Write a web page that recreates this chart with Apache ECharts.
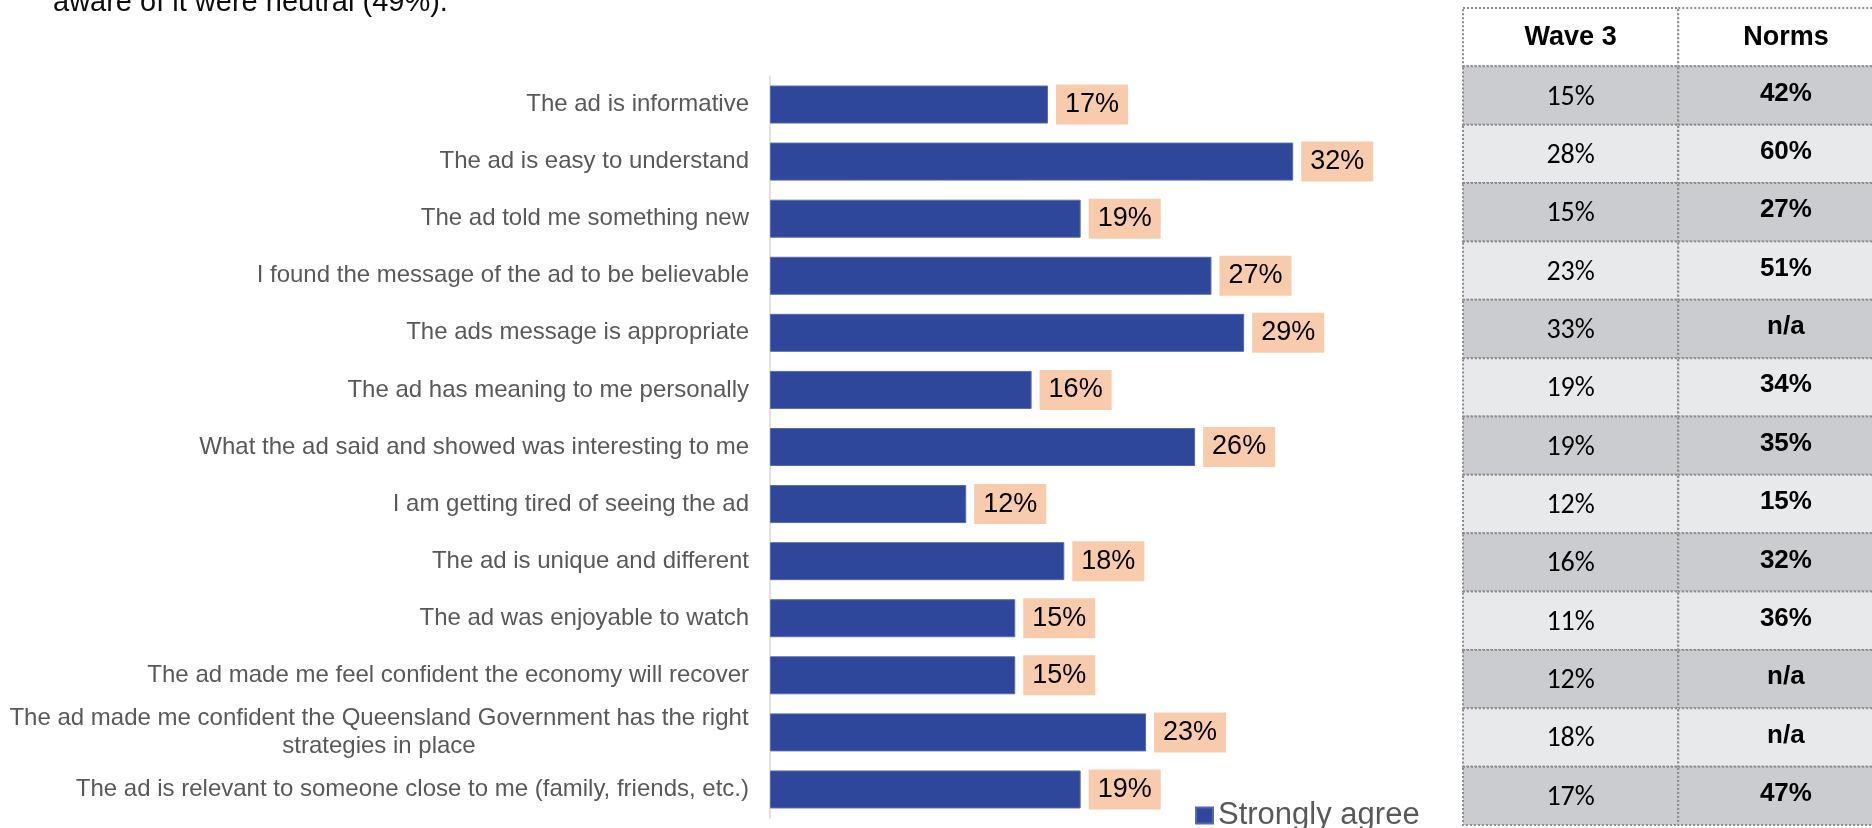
<!DOCTYPE html>
<html>
<head>
<meta charset="utf-8">
<title>Ad diagnostics – Strongly agree</title>
<script src="https://cdn.jsdelivr.net/npm/echarts@6/dist/echarts.min.js"></script>
<style>
  html, body { margin: 0; padding: 0; background: #ffffff; }
  #chart { width: 1872px; height: 828px; }
</style>
</head>
<body>
<div id="chart"></div>
<script>
// Statements rated by respondents (top to bottom)
const categories = [
  'The ad is informative',
  'The ad is easy to understand',
  'The ad told me something new',
  'I found the message of the ad to be believable',
  'The ads message is appropriate',
  'The ad has meaning to me personally',
  'What the ad said and showed was interesting to me',
  'I am getting tired of seeing the ad',
  'The ad is unique and different',
  'The ad was enjoyable to watch',
  'The ad made me feel confident the economy will recover',
  'The ad made me confident the Queensland Government has the right\nstrategies in place',
  'The ad is relevant to someone close to me (family, friends, etc.)'
];

// Current wave, % strongly agree
const stronglyAgree = [17, 32, 19, 27, 29, 16, 26, 12, 18, 15, 15, 23, 19];

// Comparison table
const tableHeaders = ['Wave 3', 'Norms'];
const wave3 = [15, 28, 15, 23, 33, 19, 19, 12, 16, 11, 12, 18, 17];
const norms = [42, 60, 27, 51, null, 34, 35, 15, 32, 36, null, null, 47];

const headline = 'aware of it were neutral (49%).';
const seriesName = 'Strongly agree';

const LABEL_FONT = '"Liberation Sans", Arial, sans-serif';
const CAT_SIZE = 24;

// width of the widest line of a wrapped category label
function textWidth(str, size) {
  const ctx = document.createElement('canvas').getContext('2d');
  ctx.font = size + 'px ' + LABEL_FONT;
  return Math.ceil(Math.max.apply(null, str.split('\n').map(s => ctx.measureText(s).width)));
}
const wrapWidth = Math.max.apply(null, categories.filter(c => c.indexOf('\n') >= 0).map(c => textWidth(c, CAT_SIZE)));

const pct = v => (v == null ? 'n/a' : v + '%');

// table cells: row 0 is the header, rows 1..n the statements
const tableRows = ['header'].concat(categories);
const cells = [];
for (let r = 0; r < tableRows.length; r++) {
  for (let c = 0; c < tableHeaders.length; c++) cells.push([c, r]);
}
function cellText(col, row) {
  if (row === 0) return tableHeaders[col];
  return col === 0 ? pct(wave3[row - 1]) : pct(norms[row - 1]);
}

const chart = echarts.init(document.getElementById('chart'), null, { renderer: 'canvas' });

chart.setOption({
  backgroundColor: '#ffffff',
  animation: false,
  title: {
    text: headline,
    left: 53,
    top: -12,
    padding: 0,
    textStyle: { fontFamily: LABEL_FONT, fontSize: 29, fontWeight: 'normal', color: '#0d0d0d' }
  },
  legend: {
    data: [seriesName],
    left: 1195,
    top: 800,
    padding: 0,
    icon: 'rect',
    itemWidth: 17,
    itemHeight: 16,
    textStyle: { fontFamily: LABEL_FONT, fontSize: 31, color: '#595959' }
  },
  grid: [
    { left: 770, top: 76, width: 654, height: 742, containLabel: false },
    // the table's second column runs past the right edge of the canvas
    { left: 1463, top: 8, right: 0, height: 817, containLabel: false }
  ],
  xAxis: [
    { type: 'value', gridIndex: 0, min: 0, max: 40, show: false },
    { type: 'value', gridIndex: 1, min: 0, max: 1.9, show: false }
  ],
  yAxis: [
    {
      type: 'category',
      gridIndex: 0,
      inverse: true,
      data: categories,
      axisLine: { show: true, lineStyle: { color: '#d9d9d9', width: 1.5 } },
      axisTick: { show: false },
      axisLabel: {
        margin: 21,
        fontFamily: LABEL_FONT,
        fontSize: CAT_SIZE,
        color: '#595959',
        lineHeight: 28,
        formatter: v => (v.indexOf('\n') >= 0 ? '{wrap|' + v + '}' : v),
        rich: {
          wrap: {
            width: wrapWidth,
            align: 'center',
            fontFamily: LABEL_FONT,
            fontSize: CAT_SIZE,
            color: '#595959',
            lineHeight: 28
          }
        }
      }
    },
    {
      type: 'category',
      gridIndex: 1,
      inverse: true,
      data: tableRows,
      show: false
    }
  ],
  series: [
    {
      name: seriesName,
      type: 'bar',
      xAxisIndex: 0,
      yAxisIndex: 0,
      data: stronglyAgree,
      barWidth: 38,
      itemStyle: { color: '#2F479B', borderColor: '#5669b4', borderWidth: 1 },
      label: {
        show: true,
        position: 'right',
        distance: 8,
        formatter: p => p.value + '%',
        fontFamily: LABEL_FONT,
        fontSize: 27,
        lineHeight: 28,
        color: '#000000',
        backgroundColor: '#F8CBAD',
        padding: [6, 9, 6, 9]
      }
    },
    {
      type: 'custom',
      xAxisIndex: 1,
      yAxisIndex: 1,
      data: cells,
      silent: true,
      clip: false,
      renderItem: function (params, api) {
        const col = api.value(0);
        const row = api.value(1);
        const left = api.coord([col, row]);
        const right = api.coord([col + 1, row]);
        const h = api.size([0, 1])[1];
        const w = right[0] - left[0];
        const cx = left[0] + w / 2;
        const cy = left[1];
        const fill = row === 0 ? '#ffffff' : (row % 2 === 1 ? '#cbccd0' : '#e8e9eb');
        let font;
        let dy = 0;
        if (row === 0) {
          font = 'bold 27px ' + LABEL_FONT;
        } else if (col === 1) {
          font = 'bold 26px ' + LABEL_FONT;
          dy = -2;
        } else {
          font = '28px Carlito, Lato, "Open Sans", sans-serif';
          dy = 2;
        }
        return {
          type: 'group',
          children: [
            {
              type: 'rect',
              shape: { x: left[0], y: cy - h / 2, width: w, height: h },
              style: { fill: fill, stroke: '#8c8c8c', lineWidth: 2, lineDash: [2, 2] }
            },
            {
              type: 'text',
              style: {
                text: cellText(col, row),
                x: cx,
                y: cy + dy,
                align: 'center',
                verticalAlign: 'middle',
                font: font,
                fill: '#000000'
              }
            }
          ]
        };
      }
    }
  ]
});
</script>
</body>
</html>
